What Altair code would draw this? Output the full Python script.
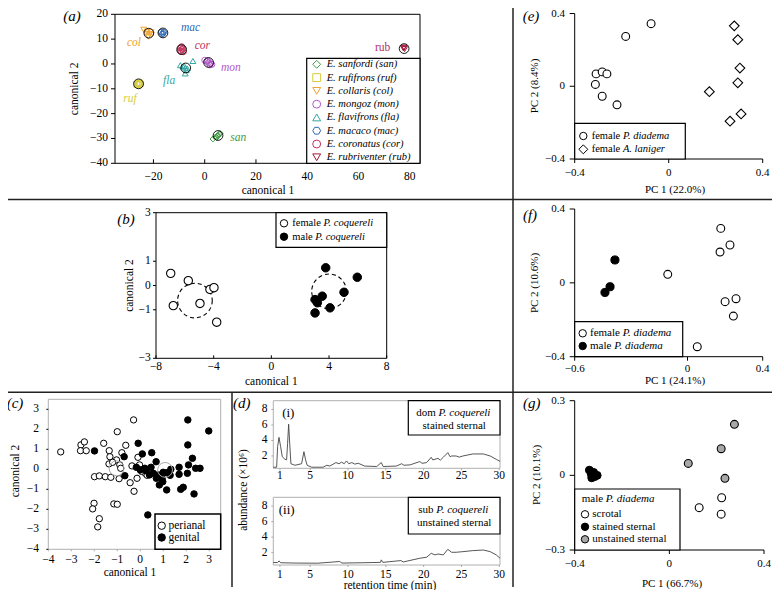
import altair as alt
import pandas as pd

FONT = "Liberation Serif"
W, H = 764, 582
M = 8


def X(v):
    return v - M


def Y(v):
    return v - M


ONE = pd.DataFrame({"k": [0]})

# ---------------- data ----------------
# (a)
A_SPECIES = ["san", "ruf", "col", "mon", "fla", "mac", "cor", "rub"]
A_LEGEND = ["E. sanfordi (san)", "E. rufifrons (ruf)", "E. collaris (col)", "E. mongoz (mon)",
            "E. flavifrons (fla)", "E. macaco (mac)", "E. coronatus (cor)", "E. rubriventer (rub)"]
A_COLORS = ["#3f9b45", "#d6cc3a", "#f0a22e", "#b25ac8", "#35a7a4", "#2d69b3", "#c3325d", "#a3173b"]
HEX = "M-1,0L-0.5,-0.866L0.5,-0.866L1,0L0.5,0.866L-0.5,0.866Z"
A_SHAPES = ["diamond", "square", "triangle-down", "circle", "triangle-up", HEX, "circle", "triangle-down"]
A_PT_SP = (["san"] * 7 + ["ruf"] * 5 + ["col"] * 7 + ["mac"] * 4 + ["cor"] * 7 + ["fla"] * 8
           + ["mon"] * 7 + ["rub"] * 3)
A_PT_X = [3.2, 4.2, 5.0, 5.6, 6.0, 5.3, 4.6,
          -26.5, -25.8, -25.2, -26.0, -25.5,
          -23.8, -22.5, -21.5, -22.0, -21.0, -22.8, -20.8,
          -17.0, -16.2, -16.6, -16.0,
          -9.5, -8.8, -9.2, -8.5, -9.6, -8.3, -9.0,
          -9.5, -8.5, -7.5, -7.2, -7.6, -4.6, -8.0, -6.8,
          0.0, 0.8, 1.5, 2.3, 2.8, 1.2, 2.0,
          77.5, 78.0, 77.8]
A_PT_Y = [-30.2, -29.4, -28.8, -28.3, -28.0, -28.9, -29.6,
          -8.2, -7.8, -8.0, -8.4, -7.6,
          13.8, 13.0, 12.0, 11.0, 12.8, 12.2, 11.8,
          12.8, 12.3, 12.0, 12.9,
          6.5, 5.8, 5.0, 6.2, 5.4, 4.9, 7.0,
          -0.5, -1.0, -1.5, -2.5, -3.8, 1.2, -0.8, -1.8,
          1.5, 1.0, 0.5, 0.2, -0.2, 1.3, -0.4,
          6.3, 6.0, 6.6]
A_MEAN_X = [5.2, -25.8, -21.8, 1.5, -7.4, -16.3, -9.0, 77.8]
A_MEAN_Y = [-28.8, -8.0, 12.4, 0.6, -1.6, 12.5, 5.8, 6.2]
A_TAG_X = [13.1, -29.2, -27.6, 10.2, -13.9, -5.5, -0.9, 69.4]
A_TAG_Y = [-29.9, -14.2, 8.3, -1.7, -6.9, 14.4, 7.2, 6.3]
A_XTICKS = [-20, 0, 20, 40, 60, 80]
A_YTICKS = [-40, -30, -20, -10, 0, 10, 20]

# (b)
B_F_X = [-6.98, -5.76, -4.26, -3.98, -6.8, -4.95, -3.79]
B_F_Y = [0.5, 0.2, -0.16, -0.09, -0.83, -0.74, -1.51]
B_M_X = [3.77, 5.96, 5.04, 3.53, 3.03, 3.19, 4.07, 3.03]
B_M_Y = [0.73, 0.34, -0.28, -0.44, -0.58, -0.71, -0.92, -1.13]
B_C_X = [-5.3, 4.0]
B_C_Y = [-0.62, -0.24]
B_XTICKS = [-8, -4, 0, 4, 8]
B_YTICKS = [-3, -1, 0, 1, 3]

# (c)
C_PERI_X = [-3.46, -2.58, -2.43, -2.6, -2.35, -1.59, -1.35, -1.32, -1.36, -1.03, -1.99, -1.78, -1.52,
            -1.28, -1.0, -0.63, -0.8, -0.89, -0.92, -0.44, -0.27, -0.29, -0.36, -0.1, -0.14, -0.03,
            0.11, 0.22, -2.01, -2.07, -1.15, -1.0, -1.78, -1.85, -0.85, -1.2, 0.3, 0.05]
C_PERI_Y = [0.87, 1.22, 1.37, 0.93, 0.93, 1.3, 0.93, 0.63, 0.27, 0.47, -0.37, -0.33, -0.37,
            -0.4, 1.88, 1.2, 0.83, 0.22, -0.47, -0.67, -1.1, 2.47, 0.17, 0.6, -0.45, 0.22,
            0.0, -0.2, -1.7, -1.98, -1.73, -1.75, -2.47, -2.88, 0.05, 0.35, -0.3, -0.1]
C_GEN_X = [-1.99, -0.09, -0.7, -0.67, 0.09, 0.5, 0.69, 0.47, 0.33, -0.17, 0.0, 0.26, 0.57, 0.8,
           0.95, 0.83, 0.98, 1.15, 1.16, 1.33, 1.69, 1.69, 1.76, 1.87, 2.07, 2.07, 2.1, 2.05, 2.27,
           2.41, 2.6, 2.34, 2.98, 0.4, 0.7, 1.0, 1.3, 0.2]
C_GEN_Y = [0.92, 1.3, 0.63, -0.32, 0.77, 0.83, 0.38, 0.1, -2.28, 0.1, -0.03, -0.07, -0.2, -0.28,
           -0.45, -0.78, -0.62, -1.03, -0.17, 0.0, 0.1, -0.25, -1.0, -0.9, 2.47, 1.22, 0.22, -0.2, 0.55,
           0.05, 0.05, -1.23, 1.92, -0.28, -0.45, -0.15, -0.3, 0.05]
C_MEAN_X = [-1.03, 1.08]
C_MEAN_Y = [0.05, -0.03]
C_TICKS = [-4, -3, -2, -1, 0, 1, 2, 3]

# (d)
D1_T = [0.12, 0.56, 0.69, 0.87, 1.09, 1.31, 1.66, 1.88, 2.01, 2.15, 2.28, 2.45, 2.98, 3.86, 4.17,
        4.39, 4.6, 5.19, 6.7, 7.2, 7.6, 8.4, 8.8, 9.15, 9.5, 9.8, 10.1, 10.5, 10.9, 11.35, 12.2,
        13.8, 14.4, 14.65, 16.4, 17.1, 17.4, 18.2, 19.5, 19.8, 20.4, 21.0, 21.2, 21.5, 21.9, 22.2,
        22.6, 23.2, 23.5, 23.7, 24.3, 24.7, 25.2, 26.5, 27.9, 28.8, 29.6, 30.1]
D1_A = [0.55, 0.55, 3.2, 4.4, 3.2, 1.9, 1.57, 1.5, 3.6, 6.1, 3.8, 1.0, 0.8, 1.0, 2.55,
        1.5, 0.8, 0.55, 0.55, 0.8, 0.7, 1.15, 1.0, 1.2, 1.0, 1.36, 1.0, 1.15, 0.95, 1.06, 0.7,
        0.64, 1.15, 0.64, 0.7, 1.0, 0.8, 0.85, 1.28, 1.05, 1.15, 1.83, 1.5, 1.57, 1.7, 1.45,
        1.83, 2.43, 1.9, 2.0, 2.0, 1.85, 2.0, 2.26, 2.26, 2.0, 1.57, 1.3]
D2_T = [0.12, 0.7, 0.87, 1.1, 3.0, 6.0, 8.9, 9.2, 12.0, 14.3, 14.4, 14.6, 17.0, 17.3, 19.5, 20.4,
        21.0, 21.5, 21.9, 22.6, 23.2, 23.7, 24.3, 25.2, 26.5, 27.9, 28.8, 29.6, 30.1]
D2_A = [0.73, 0.73, 0.94, 0.7, 0.66, 0.64, 0.86, 0.66, 0.7, 0.75, 1.07, 0.75, 0.98, 0.8, 1.28, 1.41,
        1.92, 1.71, 1.83, 1.71, 2.43, 2.05, 2.05, 2.13, 2.26, 2.34, 2.13, 1.71, 1.28]
D_XTICKS = [1, 5, 10, 15, 20, 25, 30]
D_YTICKS = [2, 4, 6, 8]

# (e)
E_P_X = [-0.075, -0.183, -0.309, -0.283, -0.263, -0.312, -0.283, -0.22]
E_P_Y = [0.344, 0.274, 0.068, 0.079, 0.068, 0.01, -0.055, -0.102]
E_A_X = [0.279, 0.294, 0.303, 0.294, 0.173, 0.308, 0.261]
E_A_Y = [0.332, 0.256, 0.1, 0.019, -0.03, -0.152, -0.192]
E_TICKS = [-0.4, 0, 0.4]

# (f)
F_F_X = [0.177, 0.226, 0.173, -0.105, 0.258, 0.2, 0.244, 0.052]
F_F_Y = [0.295, 0.205, 0.167, 0.046, -0.086, -0.102, -0.18, -0.346]
F_M_X = [-0.386, -0.412, -0.439]
F_M_Y = [0.124, -0.021, -0.052]
F_XTICKS = [-0.6, 0, 0.4]
F_YTICKS = [-0.4, 0, 0.4]

# (g)
G_SCR_X = [0.221, 0.126, 0.219]
G_SCR_Y = [-0.09, -0.13, -0.156]
G_ST_X = [-0.338, -0.33, -0.328, -0.315, -0.305, -0.32]
G_ST_Y = [0.021, 0.005, -0.01, -0.005, 0.0, 0.012]
G_UN_X = [0.275, 0.219, 0.08, 0.235]
G_UN_Y = [0.205, 0.107, 0.048, -0.012]
G_XTICKS = [-0.4, 0, 0.4]
G_YTICKS = [-0.3, 0, 0.3]

# ---------------- helpers ----------------
ROMAN = {" ": 0.25, "a": 0.444, "b": 0.5, "d": 0.5, "e": 0.444, "f": 0.333, "l": 0.278,
         "m": 0.778, "o": 0.5, "s": 0.389, "u": 0.5}
ITALIC = {" ": 0.25, ".": 0.25, "A": 0.611, "P": 0.611, "a": 0.5, "c": 0.444, "d": 0.5, "e": 0.444,
          "g": 0.5, "i": 0.278, "l": 0.278, "m": 0.722, "n": 0.5, "o": 0.5, "q": 0.5, "r": 0.389, "u": 0.5}


def width(s, size, table):
    return sum(table.get(c, 0.5) for c in s) * size


def fmt(v):
    return f"{v:g}".replace("-", "\u2212")


def sx(domain, a, b):
    return alt.Scale(domain=domain, range=[X(a), X(b)], nice=False, zero=False)


def sy(domain, bottom, top):
    return alt.Scale(domain=domain, range=[Y(bottom), Y(top)], nice=False, zero=False)


def x_axis(xs, values, at, tick, label_y, size=11.5, color="black", inward=False):
    df = pd.DataFrame({"v": values, "lab": [fmt(v) for v in values]})
    y2 = at - tick if inward else at + tick
    t = alt.Chart(df).mark_rule(color=color, strokeWidth=1).encode(
        x=alt.X("v:Q", scale=xs, axis=None), y=alt.value(Y(at)), y2=alt.value(Y(y2)))
    lab = alt.Chart(df).mark_text(font=FONT, fontSize=size, baseline="middle", align="center",
                                  color="black").encode(
        x=alt.X("v:Q", scale=xs, axis=None), y=alt.value(Y(label_y)), text="lab:N")
    return [t, lab]


def y_axis(ys, values, at, tick, label_right, size=11.5, color="black"):
    df = pd.DataFrame({"v": values, "lab": [fmt(v) for v in values]})
    t = alt.Chart(df).mark_rule(color=color, strokeWidth=1).encode(
        y=alt.Y("v:Q", scale=ys, axis=None), x=alt.value(X(at - tick)), x2=alt.value(X(at)))
    lab = alt.Chart(df).mark_text(font=FONT, fontSize=size, baseline="middle", align="right",
                                  color="black").encode(
        y=alt.Y("v:Q", scale=ys, axis=None), x=alt.value(X(label_right)), text="lab:N")
    return [t, lab]


def axis_lines(xs, ys, xdom, ydom, color="black"):
    df = pd.DataFrame({"x0": [xdom[0]], "x1": [xdom[1]], "y0": [ydom[0]], "y1": [ydom[1]]})
    bottom = alt.Chart(df).mark_rule(color=color, strokeWidth=1).encode(
        x=alt.X("x0:Q", scale=xs, axis=None), x2="x1:Q", y=alt.Y("y0:Q", scale=ys, axis=None))
    left = alt.Chart(df).mark_rule(color=color, strokeWidth=1).encode(
        x=alt.X("x0:Q", scale=xs, axis=None), y=alt.Y("y0:Q", scale=ys, axis=None), y2="y1:Q")
    return [bottom, left]


def points(xv, yv, xs, ys, shape, size, fill, stroke, sw=1.0, fill_opacity=1.0, dash=None):
    df = pd.DataFrame({"x": xv, "y": yv})
    mk = dict(shape=shape, size=size, filled=True, fill=fill, stroke=stroke, strokeWidth=sw,
              opacity=1, fillOpacity=fill_opacity)
    if dash:
        mk["strokeDash"] = dash
    return alt.Chart(df).mark_point(**mk).encode(
        x=alt.X("x:Q", scale=xs, axis=None), y=alt.Y("y:Q", scale=ys, axis=None))


def frame(xs, ys, xdom, ydom, color="black", sw=1.0):
    df = pd.DataFrame({"x0": [xdom[0]], "x1": [xdom[1]], "y0": [ydom[0]], "y1": [ydom[1]]})
    return alt.Chart(df).mark_rect(fillOpacity=0, stroke=color, strokeWidth=sw).encode(
        x=alt.X("x0:Q", scale=xs, axis=None), x2="x1:Q",
        y=alt.Y("y0:Q", scale=ys, axis=None), y2="y1:Q")


def box(x0, y0, x1, y1, sw=1.2):
    return alt.Chart(ONE).mark_rect(fill="white", stroke="black", strokeWidth=sw).encode(
        x=alt.value(X(x0)), x2=alt.value(X(x1)), y=alt.value(Y(y0)), y2=alt.value(Y(y1)))


def label(txt, x, y, size, style="normal", angle=0, align="center"):
    return alt.Chart(ONE).mark_text(text=txt, font=FONT, fontSize=size, fontStyle=style,
                                    angle=angle, align=align, baseline="middle",
                                    color="black").encode(x=alt.value(X(x)), y=alt.value(Y(y)))


def legend(bx, rows, sym_x, text_x, y_first, y_last, size, border=1.2):
    parts = [box(*bx, sw=border)]
    rs = alt.Scale(domain=[0, len(rows) - 1], range=[Y(y_first), Y(y_last)], nice=False, zero=False)
    for i, r in enumerate(rows):
        ydef = alt.Y("row:Q", scale=rs, axis=None)
        d = pd.DataFrame({"row": [i], "up": [r["up"]], "it": [r["it"]]})
        parts.append(alt.Chart(d).mark_point(shape=r["shape"], size=r["size"], filled=True,
                                             fill=r["fill"], stroke=r["stroke"], strokeWidth=1,
                                             opacity=1).encode(x=alt.value(X(sym_x)), y=ydef))
        if r["up"]:
            parts.append(alt.Chart(d).mark_text(align="left", baseline="middle", font=FONT,
                                                fontSize=size, color="black").encode(
                x=alt.value(X(text_x)), y=ydef, text="up:N"))
        if r["it"]:
            dx = width(r["up"], size, ROMAN)
            parts.append(alt.Chart(d).mark_text(align="left", baseline="middle", font=FONT,
                                                fontSize=size, fontStyle="italic",
                                                color="black").encode(
                x=alt.value(X(text_x + dx)), y=ydef, text="it:N"))
    return alt.layer(*parts)


def mixed_line(up, it, cx, y, size):
    total = width(up, size, ROMAN) + width(it, size, ITALIC)
    x0 = cx - total / 2
    return [label(up, x0, y, size, align="left"),
            label(it, x0 + width(up, size, ROMAN), y, size, style="italic", align="left")]


def rule_h(y, x0, x1):
    return alt.Chart(ONE).mark_rule(color="#222222", strokeWidth=1.5).encode(
        x=alt.value(X(x0)), x2=alt.value(X(x1)), y=alt.value(Y(y)))


def rule_v(x, y0, y1):
    return alt.Chart(ONE).mark_rule(color="#222222", strokeWidth=1.5).encode(
        x=alt.value(X(x)), y=alt.value(Y(y0)), y2=alt.value(Y(y1)))


layers = []

# ---------------- panel (a) ----------------
xa = sx([-35, 84], 115, 420)
ya = sy([-40, 20], 163.3, 14.3)
col_sc = alt.Scale(domain=A_SPECIES, range=A_COLORS)
shp_sc = alt.Scale(domain=A_SPECIES, range=A_SHAPES)
a_df = pd.DataFrame({"sp": A_PT_SP, "x": A_PT_X, "y": A_PT_Y})
a_pts = alt.Chart(a_df).mark_point(filled=False, size=34, strokeWidth=1, opacity=1).encode(
    x=alt.X("x:Q", scale=xa, axis=None), y=alt.Y("y:Q", scale=ya, axis=None),
    color=alt.Color("sp:N", scale=col_sc, legend=None),
    shape=alt.Shape("sp:N", scale=shp_sc, legend=None))
a_mean = points(A_MEAN_X, A_MEAN_Y, xa, ya, "circle", 95, "white", "black", sw=0.9, fill_opacity=0)
tag_df = pd.DataFrame({"sp": A_SPECIES, "x": A_TAG_X, "y": A_TAG_Y})
a_tags = alt.Chart(tag_df).mark_text(font=FONT, fontSize=11.5, fontStyle="italic").encode(
    x=alt.X("x:Q", scale=xa, axis=None), y=alt.Y("y:Q", scale=ya, axis=None), text="sp:N",
    color=alt.Color("sp:N", scale=col_sc, legend=None)).transform_filter("datum.sp != 'rub'")
a_rub = alt.Chart(tag_df).mark_text(font=FONT, fontSize=11.5, color="#b03068").encode(
    x=alt.X("x:Q", scale=xa, axis=None), y=alt.Y("y:Q", scale=ya, axis=None),
    text="sp:N").transform_filter("datum.sp == 'rub'")
layers.append(alt.layer(frame(xa, ya, [-35, 84], [-40, 20]),
                        *x_axis(xa, A_XTICKS, 163.3, 4, 177, inward=True),
                        *y_axis(ya, A_YTICKS, 115, 4, 108),
                        a_pts, a_mean, a_tags, a_rub))
layers.append(legend((306.7, 58.3, 420, 163.3),
                     [dict(shape=A_SHAPES[i], size=62, fill="white", stroke=A_COLORS[i], up="",
                           it=A_LEGEND[i]) for i in range(8)],
                     316.7, 326.7, 64.3, 157.3, 10.5))
layers.append(label("canonical 1", 268, 190.7, 11.5))
layers.append(label("canonical 2", 75, 88.8, 11.5, angle=270))

# ---------------- panel (b) ----------------
xb = sx([-8, 8], 156, 386.7)
yb = sy([-3, 3], 358.3, 212.7)
b_f = points(B_F_X, B_F_Y, xb, yb, "circle", 70, "white", "black", sw=1.1)
b_m = points(B_M_X, B_M_Y, xb, yb, "circle", 72, "black", "black")
b_c = points(B_C_X, B_C_Y, xb, yb, "circle", 1200, "white", "black", sw=1.1, fill_opacity=0,
             dash=[4, 3])
layers.append(alt.layer(frame(xb, yb, [-8, 8], [-3, 3]),
                        *x_axis(xb, B_XTICKS, 358.3, 3, 367.3, inward=True),
                        *y_axis(yb, B_YTICKS, 156, 3, 150.7),
                        b_c, b_f, b_m))
layers.append(legend((276, 212.7, 386.7, 247.3),
                     [dict(shape="circle", size=55, fill="white", stroke="black", up="female ",
                           it="P. coquereli"),
                      dict(shape="circle", size=55, fill="black", stroke="black", up="male ",
                           it="P. coquereli")],
                     284, 292.3, 223.3, 236.7, 10.5))
layers.append(label("canonical 1", 271.3, 382.3, 11.5))
layers.append(label("canonical 2", 130, 285.5, 11.5, angle=270))

# ---------------- panel (c) ----------------
xc = sx([-4, 3.5], 48.3, 220.7)
yc = sy([-4, 3.5], 549.3, 399.3)
c_p = points(C_PERI_X, C_PERI_Y, xc, yc, "circle", 40, "white", "black", sw=1)
c_g = points(C_GEN_X, C_GEN_Y, xc, yc, "circle", 42, "black", "black")
c_m = points(C_MEAN_X, C_MEAN_Y, xc, yc, "circle", 220, "white", "#aaaaaa", sw=1, fill_opacity=0)
layers.append(alt.layer(frame(xc, yc, [-4, 3.5], [-4, 3.5], color="#b0b0b0"),
                        *x_axis(xc, C_TICKS, 549.3, 2, 560, color="#aaaaaa"),
                        *y_axis(yc, C_TICKS, 48.3, 2, 39),
                        c_p, c_g, c_m))
layers.append(legend((155, 514, 220.7, 549.3),
                     [dict(shape="circle", size=55, fill="white", stroke="black", up="perianal", it=""),
                      dict(shape="circle", size=55, fill="black", stroke="black", up="genital", it="")],
                     161.7, 168.5, 525.7, 537.5, 11.5, border=1.5))
layers.append(label("canonical 1", 130, 573.3, 11.5))
layers.append(label("canonical 2", 16, 471, 11.5, angle=270))

# ---------------- panel (d) ----------------
xd = [0.12, 30.1]
ydd = [0.41, 9.13]
xd1 = sx(xd, 273.3, 500)
yd1 = sy(ydd, 468.3, 400.7)
xd2 = sx(xd, 273.3, 500)
yd2 = sy(ydd, 565, 497.3)
d1 = alt.Chart(pd.DataFrame({"t": D1_T, "a": D1_A})).mark_line(color="#444444", strokeWidth=0.9).encode(
    x=alt.X("t:Q", scale=xd1, axis=None), y=alt.Y("a:Q", scale=yd1, axis=None))
d2 = alt.Chart(pd.DataFrame({"t": D2_T, "a": D2_A})).mark_line(color="#444444", strokeWidth=0.9).encode(
    x=alt.X("t:Q", scale=xd2, axis=None), y=alt.Y("a:Q", scale=yd2, axis=None))
layers.append(alt.layer(frame(xd1, yd1, xd, ydd, color="#b0b0b0"),
                        *x_axis(xd1, D_XTICKS, 468.3, 2, 475.5, color="#aaaaaa"),
                        *y_axis(yd1, D_YTICKS, 273.3, 2, 267.5, color="#aaaaaa"), d1))
layers.append(alt.layer(frame(xd2, yd2, xd, ydd, color="#b0b0b0"),
                        *x_axis(xd2, D_XTICKS, 565, 2, 575, color="#aaaaaa"),
                        *y_axis(yd2, D_YTICKS, 273.3, 2, 267.5, color="#aaaaaa"), d2))
layers.append(alt.layer(box(408.3, 400.7, 500, 435), *mixed_line("dom ", "P. coquereli", 454.2, 413.3, 11),
                        label("stained sternal", 454.2, 426, 11)))
layers.append(alt.layer(box(408.3, 497.3, 500, 534), *mixed_line("sub ", "P. coquereli", 454.2, 510, 11),
                        label("unstained sternal", 454.2, 522.5, 11)))
layers.append(label("(i)", 288.3, 413.3, 13))
layers.append(label("(ii)", 286.7, 510, 13))
layers.append(label("abundance (×10⁶)", 244, 490, 11.5, angle=270))
layers.append(label("retention time (min)", 390, 586, 11.5))

# ---------------- panel (e) ----------------
xe = sx([-0.4, 0.4], 574.7, 762.7)
ye = sy([-0.4, 0.4], 159, 13.5)
e_p = points(E_P_X, E_P_Y, xe, ye, "circle", 62, "white", "black", sw=1.1)
e_a = points(E_A_X, E_A_Y, xe, ye, "diamond", 95, "white", "black", sw=1.1)
layers.append(alt.layer(*axis_lines(xe, ye, [-0.4, 0.4], [-0.4, 0.4]),
                        *x_axis(xe, E_TICKS, 159, 4, 173.3, size=11),
                        *y_axis(ye, E_TICKS, 574.7, 5, 565, size=11),
                        e_p, e_a))
layers.append(legend((574.7, 123.3, 685.3, 159),
                     [dict(shape="circle", size=55, fill="white", stroke="black", up="female ",
                           it="P. diadema"),
                      dict(shape="diamond", size=80, fill="white", stroke="black", up="female ",
                           it="A. laniger")],
                     583.3, 591.7, 136, 149.3, 10.5))
layers.append(label("PC 1 (22.0%)", 675, 189.5, 11))
layers.append(label("PC 2 (8.4%)", 535, 86, 11, angle=270))

# ---------------- panel (f) ----------------
xf = sx([-0.6, 0.4], 574.7, 762.7)
yf = sy([-0.4, 0.4], 356.7, 209)
f_f = points(F_F_X, F_F_Y, xf, yf, "circle", 62, "white", "black", sw=1.1)
f_m = points(F_M_X, F_M_Y, xf, yf, "circle", 66, "black", "black")
layers.append(alt.layer(*axis_lines(xf, yf, [-0.6, 0.4], [-0.4, 0.4]),
                        *x_axis(xf, F_XTICKS, 356.7, 4, 368.5, size=11),
                        *y_axis(yf, F_YTICKS, 574.7, 5, 565, size=11),
                        f_f, f_m))
layers.append(legend((574.7, 321.7, 682.7, 356.7),
                     [dict(shape="circle", size=55, fill="white", stroke="black", up="female ",
                           it="P. diadema"),
                      dict(shape="circle", size=55, fill="black", stroke="black", up="male ",
                           it="P. diadema")],
                     582.7, 590, 333.3, 346, 11))
layers.append(label("PC 1 (24.1%)", 675, 380.5, 11))
layers.append(label("PC 2 (10.6%)", 535, 283, 11, angle=270))

# ---------------- panel (g) ----------------
xg = sx([-0.4, 0.4], 574.7, 764)
yg = sy([-0.3, 0.3], 550, 400.7)
g_u = points(G_UN_X, G_UN_Y, xg, yg, "circle", 62, "#a8a8a8", "black", sw=1.1)
g_s = points(G_SCR_X, G_SCR_Y, xg, yg, "circle", 62, "white", "black", sw=1.1)
g_b = points(G_ST_X, G_ST_Y, xg, yg, "circle", 62, "black", "black")
layers.append(alt.layer(*axis_lines(xg, yg, [-0.4, 0.4], [-0.3, 0.3]),
                        *x_axis(xg, G_XTICKS, 550, 4, 564, size=11),
                        *y_axis(yg, G_YTICKS, 574.7, 5, 565, size=11),
                        g_u, g_s, g_b))
layers.append(legend((574.7, 489, 680, 550),
                     [dict(shape="circle", size=55, fill="white", stroke="black", up="scrotal", it=""),
                      dict(shape="circle", size=55, fill="black", stroke="black", up="stained sternal",
                           it=""),
                      dict(shape="circle", size=55, fill="#a8a8a8", stroke="black",
                           up="unstained sternal", it="")],
                     585, 592.3, 514.3, 539.3, 11))
layers.append(label("male ", 581.7, 499.3, 11, align="left"))
layers.append(label("P. diadema", 581.7 + width("male ", 11, ROMAN), 499.3, 11, style="italic",
                    align="left"))
layers.append(label("PC 1 (66.7%)", 672, 584, 11))
layers.append(label("PC 2 (10.1%)", 537, 475, 11, angle=270))

# ---------------- panel tags & separators ----------------
for t, x, y in [("(a)", 72, 16), ("(b)", 126, 219), ("(c)", 15, 403.3), ("(d)", 241.7, 403.3),
                ("(e)", 531, 16), ("(f)", 530, 215), ("(g)", 531.7, 403.3)]:
    layers.append(label(t, x, y, 15, style="italic"))
layers.append(rule_h(199.5, 0, 780))
layers.append(rule_h(392.3, 0, 780))
layers.append(rule_v(513, 0, 587))
layers.append(rule_v(232, 392.3, 587))

chart = alt.layer(*layers).resolve_scale(x="independent", y="independent").properties(
    width=W, height=H, padding=0, autosize=alt.AutoSizeParams(type="none")).configure_view(
    strokeOpacity=0)

chart.save("out.html", embed_options={"renderer": "svg", "actions": False})
